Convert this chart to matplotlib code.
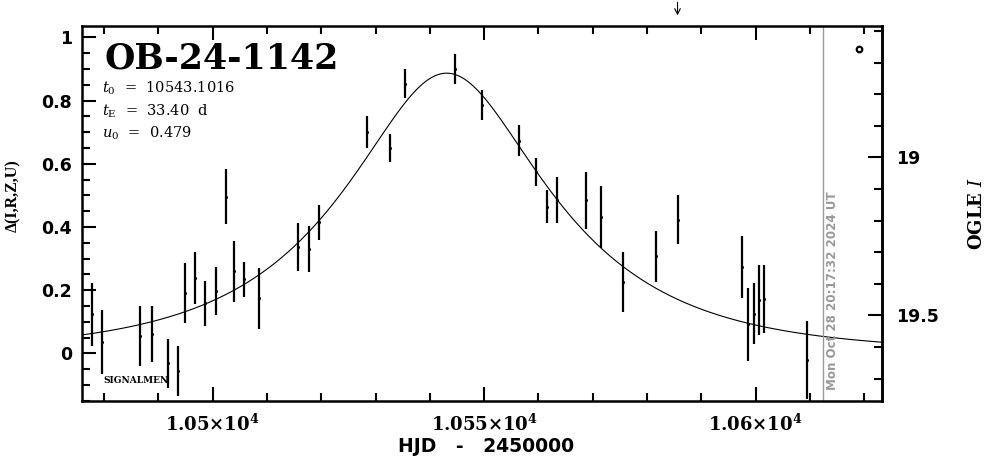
import numpy as np
import matplotlib
matplotlib.use('Agg')
import matplotlib.pyplot as plt
from matplotlib.ticker import MultipleLocator, FixedLocator, FuncFormatter

plt.rcParams['font.family'] = ['DejaVu Sans']
plt.rcParams['mathtext.fontset'] = 'dejavuserif'

# event parameters (as printed on the chart)
event_name = 'OB-24-1142'
t0 = 10543.1016
tE = 33.40
u0 = 0.479
I_base = 19.62

# photometry: HJD-2450000, delta mag, error
hjd = [10477.7, 10479.7, 10486.7, 10488.8, 10491.8, 10493.6, 10495.0, 10496.8,
       10498.6, 10500.6, 10502.4, 10503.9, 10505.8, 10508.6, 10515.7, 10517.7,
       10519.6, 10528.5, 10532.7, 10535.5, 10544.7, 10549.6, 10556.5, 10559.6,
       10561.6, 10563.5, 10568.7, 10571.6, 10575.6, 10581.6, 10585.6, 10597.5,
       10598.5, 10599.6, 10600.6, 10601.6, 10609.5]
dmag = [0.124, 0.035, 0.055, 0.061, -0.032, -0.056, 0.190, 0.238,
        0.158, 0.197, 0.496, 0.259, 0.234, 0.174, 0.337, 0.330,
        0.415, 0.701, 0.649, 0.854, 0.899, 0.786, 0.673, 0.575,
        0.464, 0.485, 0.484, 0.432, 0.226, 0.307, 0.423, 0.273,
        0.092, 0.125, 0.169, 0.173, -0.021]
derr = [0.100, 0.101, 0.096, 0.089, 0.077, 0.080, 0.095, 0.082,
        0.072, 0.075, 0.086, 0.097, 0.055, 0.097, 0.075, 0.074,
        0.055, 0.050, 0.045, 0.046, 0.047, 0.049, 0.049, 0.044,
        0.052, 0.073, 0.089, 0.099, 0.096, 0.080, 0.077, 0.099,
        0.115, 0.096, 0.110, 0.108, 0.123]

now_hjd = 10612.4
arrow_hjd = 10585.6
stamp = 'Mon Oct 28 20:17:32 2024 UT'

xlim = (10475.9, 10623.3)
ylim = (-0.150, 1.037)

fig = plt.figure(figsize=(9.86, 4.59), dpi=100)
ax = fig.add_axes([0.0829, 0.127, 0.8119, 0.817])

# pspl model from the parameters above
tt = np.linspace(xlim[0], xlim[1], 600)
uu = np.sqrt(u0**2 + ((tt - t0) / tE)**2)
amp = (uu**2 + 2) / (uu * np.sqrt(uu**2 + 4))
ax.plot(tt, 2.5 * np.log10(amp), color='black', lw=0.8)

ax.errorbar(hjd, dmag, yerr=derr, fmt='.', color='black', ms=2.5,
            elinewidth=1.6, capsize=0)

ax.axvline(now_hjd, color='#999999', lw=1)
ax.text(10614.1, -0.116, stamp, rotation=90, ha='center', va='bottom',
        color='#999999', fontsize=8.6, fontweight='bold')

ax.plot([10619.0], [0.963], 'o', mfc='white', mec='black', ms=4, mew=1.6)

ax.annotate('', xy=(arrow_hjd, 1.02), xycoords=('data', 'axes fraction'),
            xytext=(arrow_hjd, 1.07), textcoords=('data', 'axes fraction'),
            arrowprops=dict(arrowstyle='->', lw=0.8, color='black'),
            annotation_clip=False)

ax.text(10480.0, 0.903, event_name, fontsize=25, fontweight='bold',
        family='DejaVu Serif', va='baseline', ha='left')
ax.text(10479.6, 0.825, r'$t_0$  =  10543.1016', fontsize=10.5,
        family='DejaVu Serif', va='baseline')
ax.text(10479.6, 0.754, r'$t_{\rm E}$  =  33.40  d', fontsize=10.5,
        family='DejaVu Serif', va='baseline')
ax.text(10479.6, 0.682, r'$u_0$  =  0.479', fontsize=10.5,
        family='DejaVu Serif', va='baseline')
ax.text(10479.8, -0.085, 'SIGNALMEN', fontsize=6.5, fontweight='bold',
        family='DejaVu Serif', va='center', ha='left')

ax.set_xlim(xlim)
ax.set_ylim(ylim)
ax.xaxis.set_major_locator(MultipleLocator(50))
ax.xaxis.set_minor_locator(MultipleLocator(10))
ax.yaxis.set_major_locator(MultipleLocator(0.2))
ax.yaxis.set_minor_locator(MultipleLocator(0.05))

def xfmt(v, pos):
    m = v / 1e4
    s = ('%.3f' % m).rstrip('0')
    return r'$\mathbf{%s{\times}10^{4}}$' % s

def yfmt(v, pos):
    if abs(v) < 1e-9:
        return '0'
    return ('%.1f' % v).rstrip('0').rstrip('.')

ax.xaxis.set_major_formatter(FuncFormatter(xfmt))
ax.yaxis.set_major_formatter(FuncFormatter(yfmt))
ax.tick_params(which='both', direction='in', top=True, right=False, width=1.5,
               labelsize=12.5)
ax.tick_params(axis='x', labelsize=13)
ax.tick_params(which='major', length=10)
ax.tick_params(which='minor', length=5.5)
ax.tick_params(axis='x', pad=9)
ax.tick_params(axis='y', pad=7)
for lab in ax.get_yticklabels():
    lab.set_fontweight('bold')
for sp in ax.spines.values():
    sp.set_linewidth(1.8)

sec = ax.secondary_yaxis('right', functions=(lambda d: I_base - d,
                                             lambda m: I_base - m))
sec.yaxis.set_major_locator(FixedLocator([19.0, 19.5]))
sec.yaxis.set_minor_locator(MultipleLocator(0.1))
sec.yaxis.set_major_formatter(FuncFormatter(lambda v, p: ('%.1f' % v).rstrip('0').rstrip('.')))
sec.tick_params(which='both', direction='in', width=1.5, labelsize=12.5, pad=10)
sec.tick_params(which='major', length=10)
sec.tick_params(which='minor', length=5.5)
for lab in sec.get_yticklabels():
    lab.set_fontweight('bold')
sec.spines['right'].set_linewidth(1.8)

fig.text(13 / 986, 1 - 196 / 459, 'Δ(I,R,Z,U)', rotation=90, ha='center',
         va='center', fontsize=11.5, fontweight='bold', family='Liberation Serif')
fig.text(977 / 986, 1 - 213 / 459, r'OGLE $\mathit{I}$', rotation=90, ha='center',
         va='center', fontsize=13, fontweight='bold', family='DejaVu Serif')
fig.text(486 / 986, 1 - 447 / 459, 'HJD   -   2450000', ha='center', va='center',
         fontsize=13.5, fontweight='bold')

fig.savefig('out.png', dpi=100)
